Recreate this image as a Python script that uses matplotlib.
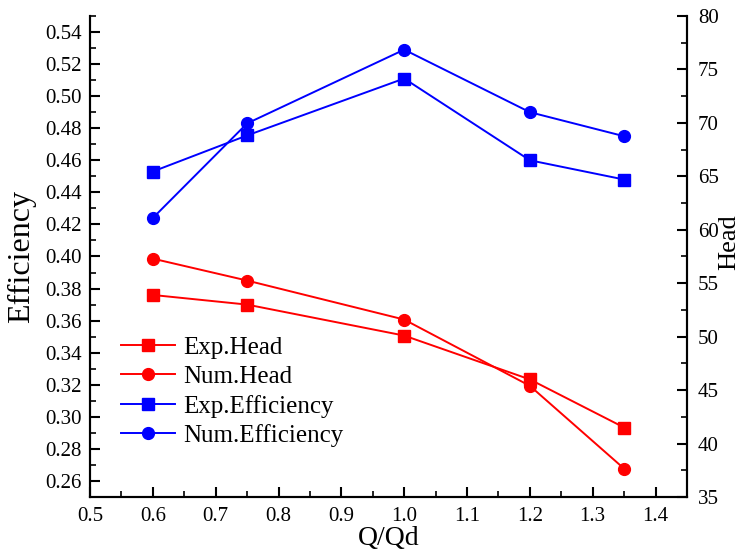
import matplotlib
matplotlib.use("Agg")
import matplotlib.pyplot as plt
from matplotlib.ticker import MultipleLocator, FormatStrFormatter

plt.rcParams['font.family'] = ['Liberation Serif', 'DejaVu Serif']

# Flow ratio
q_ratio = [0.6, 0.75, 1.0, 1.2, 1.35]

# Efficiency (left axis)
exp_eff = [0.453, 0.4755, 0.511, 0.460, 0.448]
num_eff = [0.424, 0.483, 0.529, 0.490, 0.475]

# Head (right axis)
exp_head = [53.9, 53.0, 50.1, 46.0, 41.5]
num_head = [57.3, 55.25, 51.6, 45.4, 37.65]

fig = plt.figure(figsize=(7.48, 5.51), dpi=100)
ax = fig.add_axes([0.1203, 0.098, 0.7981, 0.873])
ax2 = ax.twinx()

lw = 1.4
ms_sq = 8
ms_ci = 8.5

l1, = ax2.plot(q_ratio, exp_head, color='#ff0000', marker='s', lw=lw, ms=ms_sq,
               label='Exp.Head')
l2, = ax2.plot(q_ratio, num_head, color='#ff0000', marker='o', lw=lw, ms=ms_ci,
               label='Num.Head')
l3, = ax.plot(q_ratio, exp_eff, color='#0000ff', marker='s', lw=lw, ms=ms_sq,
              label='Exp.Efficiency')
l4, = ax.plot(q_ratio, num_eff, color='#0000ff', marker='o', lw=lw, ms=ms_ci,
              label='Num.Efficiency')

ax.set_xlim(0.5, 1.45)
ax.set_ylim(0.25, 0.55)
ax2.set_ylim(35, 80)

ax.xaxis.set_major_locator(MultipleLocator(0.1))
ax.xaxis.set_minor_locator(MultipleLocator(0.05))
ax.xaxis.set_major_formatter(FormatStrFormatter('%.1f'))
ax.yaxis.set_minor_locator(MultipleLocator(0.01))
ax.yaxis.set_major_formatter(FormatStrFormatter('%.2f'))
ax.set_yticks([0.26 + 0.02 * i for i in range(15)])
ax2.yaxis.set_major_locator(MultipleLocator(5))
ax2.yaxis.set_minor_locator(MultipleLocator(2.5))

for a in (ax, ax2):
    a.spines['top'].set_visible(False)
    for s in a.spines.values():
        s.set_linewidth(1.5)
    a.tick_params(which='major', direction='in', length=7, width=1.5, labelsize=15)
    a.tick_params(which='minor', direction='in', length=4, width=1.2)

ax.tick_params(axis='x', pad=7)
ax.tick_params(axis='y', pad=6)
ax2.tick_params(axis='y', pad=8)

ax.set_xlabel('Q/Qd', fontsize=20, labelpad=0)
ax.set_ylabel('Efficiency', fontsize=23)
ax.yaxis.set_label_coords(-0.091, 0.5)
ax2.set_ylabel('Head', fontsize=19)
ax2.yaxis.set_label_coords(1.052, 0.53)

leg = ax.legend(handles=[l1, l2, l3, l4], loc='upper left',
                bbox_to_anchor=(0.036, 0.354), frameon=False, fontsize=18,
                handlelength=2.15, handletextpad=0.3, labelspacing=0.26,
                borderaxespad=0)

fig.savefig('out.png', dpi=100)
